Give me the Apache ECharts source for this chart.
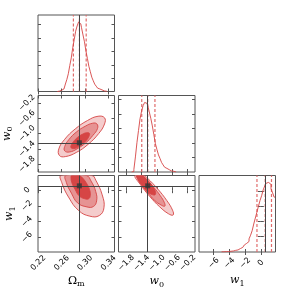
<!DOCTYPE html>
<html><head><meta charset="utf-8">
<script src="https://cdn.jsdelivr.net/npm/echarts@6/dist/echarts.min.js"></script>
<style>html,body{margin:0;padding:0;background:#fff}#c{width:291px;height:291px}</style>
</head><body><div id="c"></div>
<script>
// ---------------- data ----------------
const omRange = [0.2195, 0.350];
const w0Range = [-2.0, -0.01];
const w1Range = [-7.87, 1.87];

const omTicks = [0.22, 0.26, 0.30, 0.34];
const w0Ticks = [-1.8, -1.4, -1.0, -0.6, -0.2];
const w1Ticks = [-6, -4, -2, 0];
const histTicks = [1000, 2000, 3000, 4000, 5000];

const omTruth = 0.29, w0Truth = -1.24, w1Truth = 0.55;
const omQuant = [0.2799, 0.2902, 0.3017];
const w0Quant = [-1.395, -1.24, -1.052];
const w1Quant = [-0.49, 0.56, 1.36];

const omBins = [0.2525,0.255,0.2575,0.26,0.2625,0.265,0.2675,0.27,0.2725,0.275,0.2775,0.28,0.2825,0.285,0.2875,0.29,0.2925,0.295,0.2975,0.30,0.3025,0.305,0.3075,0.31,0.3125,0.315,0.3175,0.32,0.3225,0.325,0.3275,0.33,0.3325,0.335,0.3375];
const omCounts = [0,31,58,97,188,305,560,905,1330,1950,2510,3260,3870,4510,4900,5200,5060,4770,4230,3720,3030,2480,1890,1480,1070,800,550,400,250,190,120,85,45,20,0];
const omHistMax = 5720;

const w0Bins = [-1.66,-1.62,-1.58,-1.54,-1.50,-1.46,-1.42,-1.38,-1.34,-1.30,-1.26,-1.22,-1.18,-1.14,-1.10,-1.06,-1.02,-0.98,-0.94,-0.90,-0.86,-0.82,-0.78,-0.74,-0.70,-0.66,-0.62,-0.58,-0.54,-0.50];
const w0Counts = [0,30,180,1040,2030,2860,3670,4200,4580,4800,4740,4590,4150,3710,3180,2570,1950,1550,1180,930,660,490,330,250,160,125,70,50,20,0];
const w0HistMax = 5280;

const w1Bins = [-5.0,-4.8,-4.6,-4.4,-4.2,-4.0,-3.8,-3.6,-3.4,-3.2,-3.0,-2.8,-2.6,-2.4,-2.2,-2.0,-1.8,-1.6,-1.4,-1.2,-1.0,-0.8,-0.6,-0.4,-0.2,0.0,0.2,0.4,0.6,0.8,1.0,1.2,1.4,1.6,1.8];
const w1Counts = [10,14,17,24,31,42,49,66,80,108,135,185,225,300,360,460,565,690,860,1100,1400,1830,2220,2600,3000,3370,3680,4060,4320,4510,4550,4420,4130,3870,3590];
const w1HistMax = 5005;

// contour outlines (outer, middle, inner)
const omW0Outer = [[0.333,-0.59],[0.333,-0.75],[0.323,-1.00],[0.305,-1.28],[0.285,-1.49],[0.266,-1.60],[0.256,-1.57],[0.255,-1.40],[0.265,-1.15],[0.283,-0.88],[0.304,-0.66],[0.322,-0.55]];
const omW0Mid = [[0.320,-0.75],[0.321,-0.87],[0.313,-1.05],[0.301,-1.24],[0.286,-1.40],[0.273,-1.48],[0.265,-1.45],[0.265,-1.34],[0.272,-1.16],[0.285,-0.96],[0.300,-0.81],[0.313,-0.73]];
const omW0Inner = [[0.307,-0.99],[0.307,-1.05],[0.303,-1.16],[0.296,-1.26],[0.288,-1.35],[0.281,-1.39],[0.276,-1.37],[0.276,-1.31],[0.280,-1.21],[0.287,-1.10],[0.295,-1.02],[0.302,-0.98]];

const omW1Outer = [[0.324,-3.23],[0.332,-2.24],[0.329,-0.59],[0.318,1.28],[0.3115,1.87],[0.259,1.87],[0.260,0.98],[0.2716,-0.88],[0.289,-2.60],[0.308,-3.31]];
const omW1Mid = [[0.314,-2.08],[0.3195,-1.36],[0.318,-0.18],[0.310,1.16],[0.302,1.87],[0.267,1.87],[0.268,0.96],[0.2765,-0.38],[0.287,-1.62],[0.303,-2.13]];
const omW1Inner = [[0.306,-1.09],[0.3087,-0.66],[0.3073,0.09],[0.3017,0.95],[0.2936,1.70],[0.290,1.87],[0.277,1.87],[0.2758,1.69],[0.2773,0.95],[0.2829,0.08],[0.2897,-0.72],[0.2993,-1.09]];

const w0W1Outer = [[-0.579,-3.16],[-0.594,-2.55],[-0.742,-1.33],[-0.981,0.16],[-1.249,1.54],[-1.335,1.87],[-1.571,1.87],[-1.434,0.74],[-1.195,-0.75],[-0.926,-2.13],[-0.70,-3.00]];
const w0W1Mid = [[-0.796,-2.03],[-0.806,-1.59],[-0.915,-0.69],[-1.09,0.40],[-1.287,1.41],[-1.403,1.87],[-1.532,1.87],[-1.530,1.73],[-1.421,0.83],[-1.245,-0.26],[-1.059,-1.31],[-0.884,-1.91]];
const w0W1Inner = [[-1.047,-0.57],[-1.039,-0.22],[-1.098,0.39],[-1.207,1.10],[-1.336,1.73],[-1.38,1.87],[-1.527,1.87],[-1.530,1.76],[-1.47,1.15],[-1.362,0.44],[-1.243,-0.23],[-1.119,-0.56]];

// ---------------- style ----------------
const RED = '#d64545';
const DASH_RED = '#e06b6b';
const FILLS = ['#f4cccc', '#e69393', '#d64545'];
const TRUTH = '#444';
const SPINE = '#555';
const LEFTS = [38, 118.5, 199], TOPS = [15, 95.5, 175.5], SIZE = 76.5;

const minus = s => s.replace('-', '\u2212');
const fmtOm = v => v.toFixed(2);
const fmtW0 = v => minus(v.toFixed(1));
const fmtW1 = v => minus(String(Math.round(v)));

const richName = {
  i: {fontFamily: 'DejaVu Serif', fontStyle: 'italic', fontSize: 11, color: '#000', lineHeight: 15},
  g: {fontFamily: 'DejaVu Serif', fontSize: 11, color: '#000', lineHeight: 15},
  s: {fontFamily: 'DejaVu Serif', fontSize: 8, color: '#000', verticalAlign: 'bottom', lineHeight: 9}
};

const panels = [
  {r:0, c:0, x:'om', y:'hom'},
  {r:1, c:0, x:'om', y:'w0'},
  {r:1, c:1, x:'w0', y:'hw0'},
  {r:2, c:0, x:'om', y:'w1'},
  {r:2, c:1, x:'w0', y:'w1'},
  {r:2, c:2, x:'w1', y:'hw1'}
];
const vars = {
  om: {range: omRange, ticks: omTicks, fmt: fmtOm, name: '{g|\u03A9}{s|m}'},
  w0: {range: w0Range, ticks: w0Ticks, fmt: fmtW0, name: '{i|w}{s|0}'},
  w1: {range: w1Range, ticks: w1Ticks, fmt: fmtW1, name: '{i|w}{s|1}'},
  hom: {range: [0, omHistMax], ticks: histTicks},
  hw0: {range: [0, w0HistMax], ticks: histTicks},
  hw1: {range: [0, w1HistMax], ticks: histTicks}
};

const grid = [], xAxis = [], yAxis = [], series = [];

panels.forEach((p, gi) => {
  grid.push({left: LEFTS[p.c], top: TOPS[p.r], width: SIZE, height: SIZE,
             show: true, borderColor: SPINE, borderWidth: 1, backgroundColor: 'transparent'});
  const X = vars[p.x], Y = vars[p.y];
  const showX = p.r === 2, showY = p.c === 0 && p.r > 0;
  ['bottom', 'top'].forEach(pos => {
    const lab = pos === 'bottom' && showX;
    xAxis.push({
      type: 'value', gridIndex: gi, position: pos, min: X.range[0], max: X.range[1],
      axisLine: {show: false}, splitLine: {show: false},
      axisTick: {show: true, inside: true, length: 3, customValues: X.ticks, lineStyle: {color: SPINE, width: 1}},
      axisLabel: {show: lab, customValues: X.ticks, formatter: X.fmt, rotate: 45, align: 'center',
                  verticalAlign: 'middle', margin: 11, fontSize: 8, color: '#000', fontFamily: 'DejaVu Sans'},
      name: lab ? X.name : '', nameLocation: 'middle', nameGap: 21,
      nameTextStyle: {rich: richName}
    });
  });
  ['left', 'right'].forEach(pos => {
    const lab = pos === 'left' && showY;
    yAxis.push({
      type: 'value', gridIndex: gi, position: pos, min: Y.range[0], max: Y.range[1],
      axisLine: {show: false}, splitLine: {show: false},
      axisTick: {show: true, inside: true, length: 3, customValues: Y.ticks, lineStyle: {color: SPINE, width: 1}},
      axisLabel: {show: lab, customValues: Y.ticks, formatter: Y.fmt, rotate: 45, align: 'center',
                  verticalAlign: 'middle', margin: 11, fontSize: 8, color: '#000', fontFamily: 'DejaVu Sans'},
      name: lab ? Y.name : '', nameLocation: 'middle', nameGap: 16, nameRotate: 90,
      nameTextStyle: {rich: richName}
    });
  });
});

function histSeries(gi, bins, counts) {
  return {
    type: 'line', xAxisIndex: 2 * gi, yAxisIndex: 2 * gi, step: 'middle', symbol: 'none',
    data: bins.map((b, i) => [b, counts[i]]), color: RED,
    lineStyle: {color: RED, width: 1, opacity: 0.9}, silent: true, clip: true, z: 3
  };
}

// dashed quantile lines, one line series each, spanning the histogram's y range
function quantSeries(gi, quant, ymax) {
  return quant.map(q => ({
    type: 'line', xAxisIndex: 2 * gi, yAxisIndex: 2 * gi, symbol: 'none', silent: true, z: 2,
    data: [[q, 0], [q, ymax]], color: DASH_RED,
    lineStyle: {color: DASH_RED, width: 1.2, type: [3, 2]}
  }));
}

function truthLineSeries(gi, tx) {
  return {
    type: 'scatter', xAxisIndex: 2 * gi, yAxisIndex: 2 * gi, z: 4, silent: true,
    data: [], symbolSize: 0, color: TRUTH,
    markLine: {silent: true, symbol: ['none', 'none'], label: {show: false}, animation: false,
               lineStyle: {color: TRUTH, type: 'solid', width: 1},
               data: [{xAxis: tx}]}
  };
}

function contourSeries(gi, levels) {
  return {
    type: 'custom', xAxisIndex: 2 * gi, yAxisIndex: 2 * gi, clip: true, silent: true,
    data: levels.map(lv => [lv[0][0], lv[0][1]]),
    renderItem(params, api) {
      const lv = levels[params.dataIndex];
      return {
        type: 'polygon',
        shape: {points: lv.map(pt => api.coord(pt)), smooth: 0.45},
        style: {fill: FILLS[params.dataIndex], stroke: RED, lineWidth: 0.9}
      };
    }
  };
}

function truthSeries(gi, tx, ty) {
  return {
    type: 'scatter', xAxisIndex: 2 * gi, yAxisIndex: 2 * gi, z: 5, silent: true,
    data: [[tx, ty]], symbol: 'rect', symbolSize: 5, itemStyle: {color: '#333'}, color: TRUTH,
    markLine: {silent: true, symbol: ['none', 'none'], label: {show: false}, animation: false,
               lineStyle: {color: TRUTH, type: 'solid', width: 1},
               data: [{xAxis: tx}, {yAxis: ty}]}
  };
}

series.push(histSeries(0, omBins, omCounts));
series.push(...quantSeries(0, omQuant, omHistMax));
series.push(truthLineSeries(0, omTruth));
series.push(contourSeries(1, [omW0Outer, omW0Mid, omW0Inner]));
series.push(truthSeries(1, omTruth, w0Truth));
series.push(histSeries(2, w0Bins, w0Counts));
series.push(...quantSeries(2, w0Quant, w0HistMax));
series.push(truthLineSeries(2, w0Truth));
series.push(contourSeries(3, [omW1Outer, omW1Mid, omW1Inner]));
series.push(truthSeries(3, omTruth, w1Truth));
series.push(contourSeries(4, [w0W1Outer, w0W1Mid, w0W1Inner]));
series.push(truthSeries(4, w0Truth, w1Truth));
series.push(histSeries(5, w1Bins, w1Counts));
series.push(...quantSeries(5, w1Quant, w1HistMax));
series.push(truthLineSeries(5, w1Truth));

const chart = echarts.init(document.getElementById('c'), null, {renderer: 'canvas'});
chart.setOption({animation: false, backgroundColor: '#fff', grid, xAxis, yAxis, series});
</script>
</body></html>
